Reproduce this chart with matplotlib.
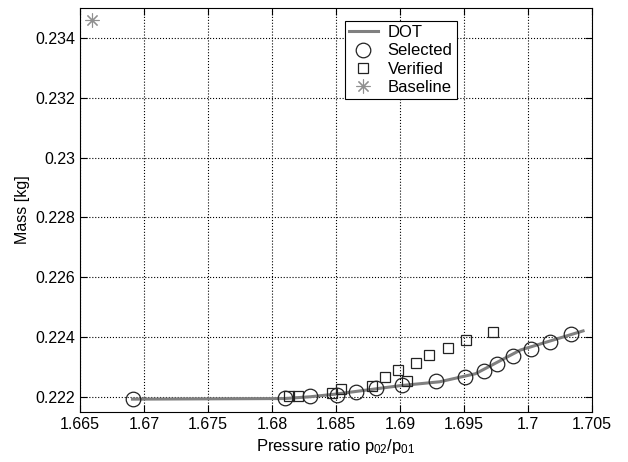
import matplotlib
matplotlib.use('Agg')
import matplotlib.pyplot as plt
from matplotlib.ticker import FuncFormatter

plt.rcParams['font.family'] = ['Liberation Sans', 'DejaVu Sans']
plt.rcParams['mathtext.fontset'] = 'custom'
plt.rcParams['mathtext.rm'] = 'Liberation Sans'
plt.rcParams['mathtext.it'] = 'Liberation Sans'

# DOT curve
dot_x = [1.6691, 1.6810, 1.6830, 1.6850, 1.6900, 1.6931, 1.6959, 1.6994, 1.7043]
dot_y = [0.22193, 0.22195, 0.22201, 0.22210, 0.22238, 0.22251, 0.22278, 0.22357, 0.22421]

# Selected designs
sel_x = [1.66912, 1.68102, 1.68297, 1.68505, 1.68656, 1.68813, 1.69018, 1.69279,
         1.69508, 1.69656, 1.69758, 1.69880, 1.70021, 1.70172, 1.70338]
sel_y = [0.22193, 0.22198, 0.22203, 0.22207, 0.22218, 0.22229, 0.22239, 0.22253,
         0.22268, 0.22287, 0.22312, 0.22337, 0.22360, 0.22385, 0.22409]

# Verified designs
ver_x = [1.68130, 1.68202, 1.68466, 1.68539, 1.68779, 1.68883, 1.68988, 1.69057,
         1.69125, 1.69227, 1.69377, 1.69516, 1.69729]
ver_y = [0.22204, 0.22204, 0.22214, 0.22226, 0.22237, 0.22268, 0.22290, 0.22252,
         0.22315, 0.22339, 0.22365, 0.22390, 0.22417]

# Baseline
base_x = [1.66591]
base_y = [0.23460]

xticks = [1.665, 1.67, 1.675, 1.68, 1.685, 1.69, 1.695, 1.7, 1.705]
yticks = [0.222, 0.224, 0.226, 0.228, 0.23, 0.232, 0.234]

fig = plt.figure(figsize=(6.28, 4.62), dpi=100)
ax = fig.add_axes([0.1274, 0.1082, 0.8153, 0.8745])

ax.plot(dot_x, dot_y, '-', color='#808080', linewidth=2.2, label='DOT')
ax.plot(sel_x, sel_y, 'o', markersize=10.5, markerfacecolor='none',
        markeredgecolor='#222222', markeredgewidth=0.9, label='Selected')
ax.plot(ver_x, ver_y, 's', markersize=7, markerfacecolor='none',
        markeredgecolor='#222222', markeredgewidth=0.9, label='Verified')
ax.plot(base_x, base_y, linestyle='none', marker=(8, 2, 0), markersize=10,
        markeredgecolor='#909090', markeredgewidth=0.8, label='Baseline')

ax.set_xlim(1.665, 1.705)
ax.set_ylim(0.2215, 0.235)
ax.set_xticks(xticks)
ax.set_yticks(yticks)
fmt = FuncFormatter(lambda v, p: '%g' % round(v, 4))
ax.xaxis.set_major_formatter(fmt)
ax.yaxis.set_major_formatter(fmt)
ax.tick_params(direction='in', top=True, right=True, labelsize=11.5, length=5)
ax.grid(True, linestyle=':', color='black', linewidth=0.8)

ax.set_xlabel('Pressure ratio p$_{02}$/p$_{01}$', fontsize=12)
ax.set_ylabel('Mass [kg]', fontsize=11.5)

leg = ax.legend(loc='upper left', bbox_to_anchor=(0.5176, 0.968), fontsize=12,
                fancybox=False, framealpha=1, edgecolor='black', borderaxespad=0,
                handlelength=1.7, handletextpad=0.6, borderpad=0.25,
                labelspacing=0.2)
leg.get_frame().set_linewidth(0.8)

plt.savefig('out.png', dpi=100)
